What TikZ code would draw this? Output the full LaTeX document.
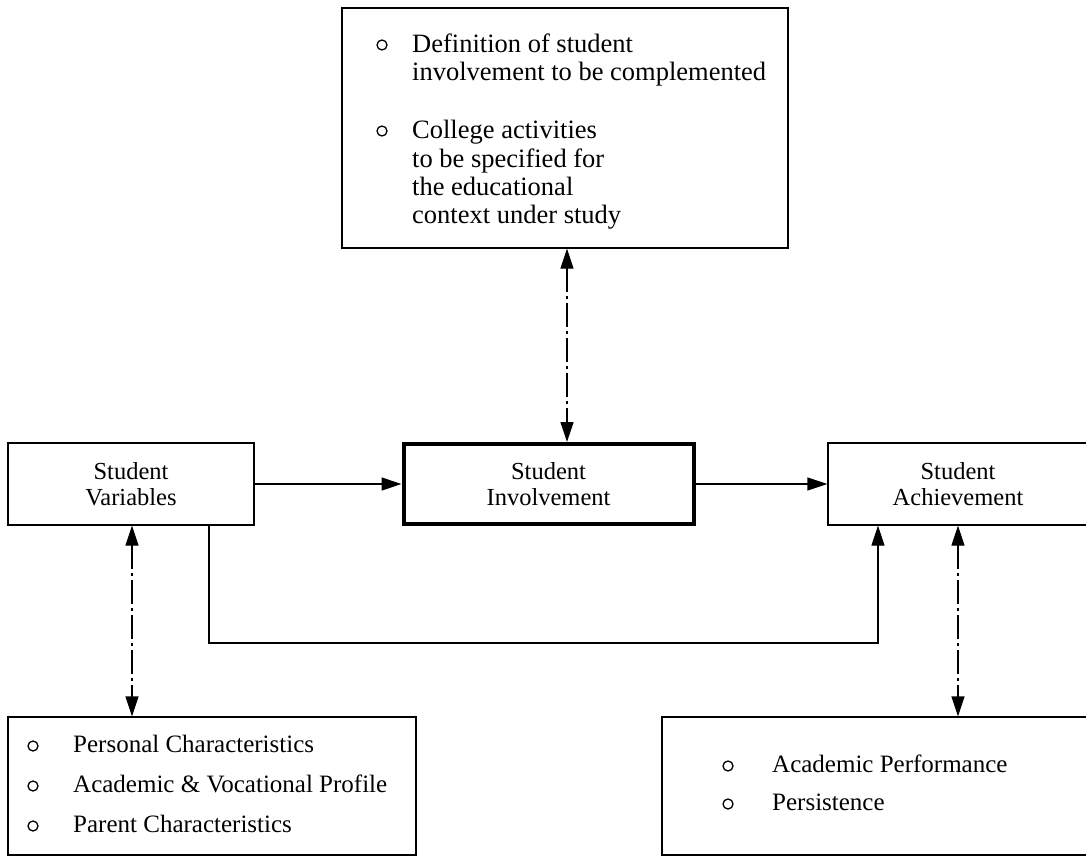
\documentclass[tikz,border=0pt]{standalone}
\usepackage{fontspec}
\setmainfont{Liberation Serif}
\usetikzlibrary{arrows.meta}
\begin{document}
\begin{tikzpicture}[x=1pt,y=-1pt,
  thinbox/.style={draw, line width=1.3pt, rectangle, inner sep=0pt},
  thickbox/.style={draw, line width=4pt, rectangle, inner sep=0pt},
  lbl/.style={align=center, font=\fontsize{24.5}{26}\selectfont},
  itm/.style={anchor=base west, inner sep=0pt, font=\fontsize{25}{26}\selectfont},
  topitm/.style={itm, font=\fontsize{26.5}{28}\selectfont},
  bul/.style={draw, circle, line width=1.3pt, minimum size=10pt, inner sep=0pt},
  conn/.style={line width=1.3pt},
  tip/.style={-{Triangle[length=20pt,width=13pt]}},
  ttip/.style={{Triangle[length=20pt,width=13pt]}-{Triangle[length=20pt,width=13pt]}},
  vdash/.style={dash pattern=on 24pt off 4pt on 3pt off 4pt}
]
\useasboundingbox (0,0) rectangle (1086,856);
\fill[white] (0,0) rectangle (1086,856);

% boxes
\node[thinbox, minimum width=446pt, minimum height=240pt] (top) at (565,128) {};
\node[thinbox, minimum width=246pt, minimum height=82pt, lbl] (sv) at (131,484) {Student\\Variables};
\node[thickbox, minimum width=290pt, minimum height=80pt, lbl] (si) at (548.5,484) {Student\\Involvement};
\node[thinbox, minimum width=260pt, minimum height=82pt, lbl] (sa) at (958,484) {Student\\Achievement};
\node[thinbox, minimum width=408pt, minimum height=138pt] (bl) at (212,786) {};
\node[thinbox, minimum width=428pt, minimum height=138pt] (br) at (876,786) {};

% top box text
\node[bul] (b1) at (382,45) {};
\node[topitm] (t1) at (412,53) {Definition of student};
\node[topitm] (t2) at (412,81) {involvement to be complemented};
\node[bul] (b2) at (382,131) {};
\node[topitm] (t3) at (412,139) {College activities};
\node[topitm] (t4) at (412,167) {to be specified for};
\node[topitm] (t5) at (412,195) {the educational};
\node[topitm] (t6) at (412,223) {context under study};

% bottom left text
\node[bul] (b3) at (33,746) {};
\node[itm] (p1) at (73,752) {Personal Characteristics};
\node[bul] (b4) at (33,786) {};
\node[itm] (p2) at (73,792) {Academic \& Vocational Profile};
\node[bul] (b5) at (33,826) {};
\node[itm] (p3) at (73,832) {Parent Characteristics};

% bottom right text
\node[bul] (b6) at (728,766) {};
\node[itm] (r1) at (772,772) {Academic Performance};
\node[bul] (b7) at (728,804) {};
\node[itm] (r2) at (772,810) {Persistence};

% connectors
\coordinate (tx) at (567,0);
\draw[conn, ttip, vdash] (top.south -| tx) -- (si.north -| tx);
\draw[conn, tip] (sv.east) -- (si.west);
\draw[conn, tip] (si.east) -- (sa.west);
\coordinate (c1) at (209,643);
\coordinate (c2) at (878,643);
\draw[conn, tip] (sv.south -| c1) -- (c1) -- (c2) -- (c2 |- sa.south);
\coordinate (lx) at (132,0);
\draw[conn, ttip, vdash] (sv.south -| lx) -- (bl.north -| lx);
\coordinate (rx) at (958,0);
\draw[conn, ttip, vdash] (sa.south -| rx) -- (br.north -| rx);
\end{tikzpicture}
\end{document}
